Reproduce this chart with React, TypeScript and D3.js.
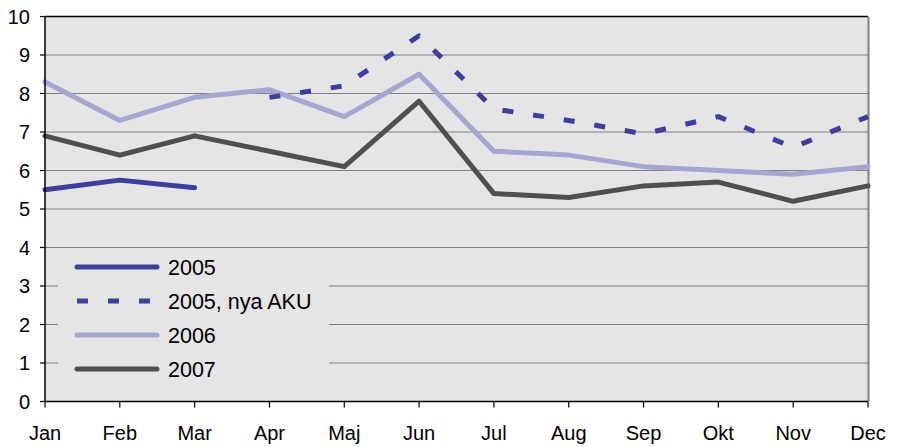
import React from "react";
import * as d3 from "d3";

const months = ["Jan", "Feb", "Mar", "Apr", "Maj", "Jun", "Jul", "Aug", "Sep", "Okt", "Nov", "Dec"];
const yTicks = [0, 1, 2, 3, 4, 5, 6, 7, 8, 9, 10];

const s2005: (number | null)[] = [5.5, 5.75, 5.55, null, null, null, null, null, null, null, null, null];
const s2005nya: (number | null)[] = [null, null, null, 7.9, 8.2, 9.5, 7.6, 7.3, 6.95, 7.4, 6.6, 7.4];
const s2006: (number | null)[] = [8.3, 7.3, 7.9, 8.1, 7.4, 8.5, 6.5, 6.4, 6.1, 6.0, 5.9, 6.1];
const s2007: (number | null)[] = [6.9, 6.4, 6.9, 6.5, 6.1, 7.8, 5.4, 5.3, 5.6, 5.7, 5.2, 5.6];

const seriesNames = ["2005", "2005, nya AKU", "2006", "2007"];

const W = 899;
const H = 447;
const left = 45;
const right = 868;
const top = 16.5;
const bottom = 401.5;
const FONT = "'Liberation Sans', Arial, sans-serif";

export default function App() {
  const x = d3.scalePoint<string>().domain(months).range([left, right]);
  const y = d3.scaleLinear().domain([0, 10]).range([bottom, top]);

  const line = d3
    .line<number | null>()
    .defined((d) => d !== null)
    .x((_, i) => x(months[i]) as number)
    .y((d) => y(d as number));

  const series = [
    { name: seriesNames[0], data: s2005, color: "#3e3e9b", dash: null as string | null },
    { name: seriesNames[1], data: s2005nya, color: "#3e3e9b", dash: "11,20" },
    { name: seriesNames[2], data: s2006, color: "#a6a6d1", dash: null },
    { name: seriesNames[3], data: s2007, color: "#4f4f4f", dash: null },
  ];

  const drawOrder = [3, 2, 0, 1];

  return (
    <svg width={W} height={H} style={{ position: "absolute", left: 0, top: 0 }} fontFamily={FONT}>
      <rect x={0} y={0} width={W} height={H} fill="#ffffff" />
      <rect x={left} y={top} width={right - left} height={bottom - top} fill="#e5e5e5" />
      {yTicks
        .filter((t) => t > 0 && t < 10)
        .map((t) => (
          <line key={"g" + t} x1={left} x2={right} y1={y(t)} y2={y(t)} stroke="#808080" strokeWidth={1.2} />
        ))}
      <rect x={58} y={250} width={271} height={148} fill="#e5e5e5" />
      <line x1={left} x2={right} y1={top} y2={top} stroke="#000" strokeWidth={1.5} />
      <line x1={right + 0.5} x2={right + 0.5} y1={top} y2={bottom} stroke="#808080" strokeWidth={2} />

      {drawOrder.map((i) => {
        const s = series[i];
        return (
          <path
            key={s.name}
            d={line(s.data) || ""}
            fill="none"
            stroke={s.color}
            strokeWidth={5}
            strokeDasharray={s.dash || undefined}
            strokeLinecap={s.dash ? "butt" : "round"}
            strokeLinejoin="round"
          />
        );
      })}

      <line x1={left} x2={left} y1={top} y2={bottom} stroke="#000" strokeWidth={1.5} />
      <line x1={left} x2={right} y1={bottom} y2={bottom} stroke="#000" strokeWidth={1.5} />
      {yTicks.map((t) => (
        <g key={"yt" + t}>
          <line x1={left - 5} x2={left} y1={y(t)} y2={y(t)} stroke="#000" strokeWidth={1.2} />
          <text x={30} y={y(t)} dy="0.35em" textAnchor="end" fontSize={20} fill="#000">
            {t}
          </text>
        </g>
      ))}
      {months.map((m) => (
        <g key={"xt" + m}>
          <line x1={x(m)} x2={x(m)} y1={bottom} y2={bottom + 6} stroke="#000" strokeWidth={1.2} />
          <text x={x(m)} y={440} textAnchor="middle" fontSize={20} fill="#000">
            {m}
          </text>
        </g>
      ))}

      {series.map((s, i) => {
        const ly = 267 + i * 34;
        return (
          <g key={"lg" + s.name}>
            <line
              x1={77}
              x2={s.dash ? 159 : 157}
              y1={ly}
              y2={ly}
              stroke={s.color}
              strokeWidth={5}
              strokeDasharray={s.dash || undefined}
              strokeLinecap={s.dash ? "butt" : "round"}
            />
            <text x={168} y={ly} dy="0.36em" fontSize={21.5} fill="#000">
              {s.name}
            </text>
          </g>
        );
      })}
    </svg>
  );
}
